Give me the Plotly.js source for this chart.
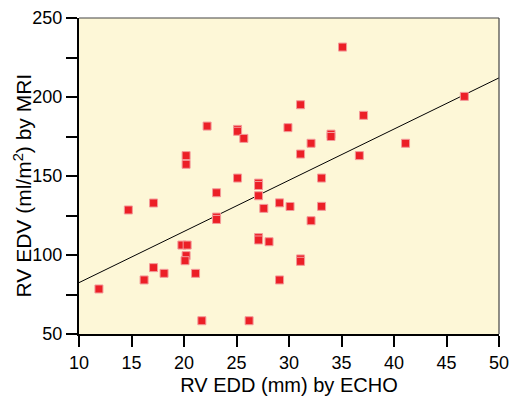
<!DOCTYPE html>
<html>
<head>
<meta charset="utf-8">
<script src="https://cdn.plot.ly/plotly-3.0.1.min.js"></script>
<style>
html,body{margin:0;padding:0;background:#fff;}
#chart{width:512px;height:396px;}
</style>
</head>
<body>
<div id="chart"></div>
<script>
// RV EDD by ECHO (mm)
var echoEDD = [11.9, 14.7, 16.2, 17.1, 17.1, 18.1, 19.8, 20.3, 20.2, 20.1, 20.2, 20.2, 21.1, 21.7, 22.2,
  23.1, 23.1, 23.1, 25.1, 25.1, 25.1, 25.7, 26.2, 27.1, 27.1, 27.1, 27.1, 27.1, 27.6, 28.1,
  29.1, 29.1, 29.9, 30.1, 31.1, 31.1, 31.1, 31.1, 32.1, 32.1, 33.1, 33.1, 34.0, 34.0, 35.1,
  36.7, 37.1, 41.1, 46.7];
// RV EDV by MRI (ml/m2)
var mriEDV = [78.5, 128.5, 84.2, 132.9, 92.0, 88.4, 106.3, 106.3, 99.6, 96.4, 162.9, 157.4, 88.4, 58.4, 181.6,
  139.4, 124.0, 122.5, 148.7, 179.5, 178.3, 173.8, 58.4, 145.5, 144.0, 137.5, 111.0, 109.5, 129.5, 108.4,
  133.0, 84.2, 180.6, 130.7, 195.1, 163.9, 97.5, 96.0, 170.7, 121.7, 148.7, 130.8, 176.5, 175.0, 231.6,
  162.9, 188.4, 170.7, 200.4];
// regression line
var fitX = [10, 50];
var fitIntercept = 50.1;
var fitSlope = 3.24;
var fitY = fitX.map(function(x){ return fitIntercept + fitSlope * x; });

var xTickVals = [10, 15, 20, 25, 30, 35, 40, 45, 50];
var yTickVals = [50, 75, 100, 125, 150, 175, 200, 225, 250];
var yTickText = ['50', '', '100', '', '150', '', '200', '', '250'];

var fontFam = 'Arial, "Liberation Sans", sans-serif';

var traces = [
  {
    x: fitX, y: fitY, type: 'scatter', mode: 'lines',
    line: {color: '#000', width: 1}, hoverinfo: 'skip', showlegend: false
  },
  {
    x: echoEDD, y: mriEDV, type: 'scatter', mode: 'markers',
    marker: {symbol: 'square', size: 8, color: '#ec1f26', line: {color: '#f39a9a', width: 1}},
    showlegend: false
  }
];

var layout = {
  width: 512, height: 396,
  margin: {l: 79, r: 13, t: 18, b: 62},
  paper_bgcolor: '#ffffff',
  plot_bgcolor: '#fdf7d7',
  font: {family: fontFam, color: '#000', size: 17},
  xaxis: {
    range: [10, 50], tickvals: xTickVals, ticktext: xTickVals.map(String),
    ticks: 'outside', ticklen: 11, tickwidth: 2, tickcolor: '#000',
    showline: true, linecolor: '#000', linewidth: 2,
    showgrid: false, zeroline: false,
    tickfont: {size: 18, family: fontFam},
    title: {text: 'RV EDD (mm) by ECHO', font: {size: 20, family: fontFam}, standoff: 14}
  },
  yaxis: {
    range: [50, 250], tickvals: yTickVals, ticktext: yTickText,
    ticks: 'outside', ticklen: 11, tickwidth: 2, tickcolor: '#000',
    showline: true, linecolor: '#000', linewidth: 2,
    showgrid: false, zeroline: false,
    tickfont: {size: 18, family: fontFam}
  },
  shapes: [
    {type: 'line', xref: 'paper', yref: 'paper', x0: 0, x1: 1, y0: 1, y1: 1, line: {color: '#444', width: 1.2}},
    {type: 'line', xref: 'paper', yref: 'paper', x0: 1, x1: 1, y0: 0, y1: 1, line: {color: '#444', width: 1.2}}
  ],
  annotations: [
    {
      text: 'RV EDV (ml/m<sup>2</sup>) by MRI', textangle: -90,
      xref: 'paper', yref: 'paper', x: 0, y: 0.47,
      xshift: -56, xanchor: 'center', yanchor: 'middle', showarrow: false,
      font: {size: 21, family: fontFam, color: '#000'}
    }
  ]
};

Plotly.newPlot('chart', traces, layout, {displayModeBar: false, staticPlot: true});
</script>
</body>
</html>
